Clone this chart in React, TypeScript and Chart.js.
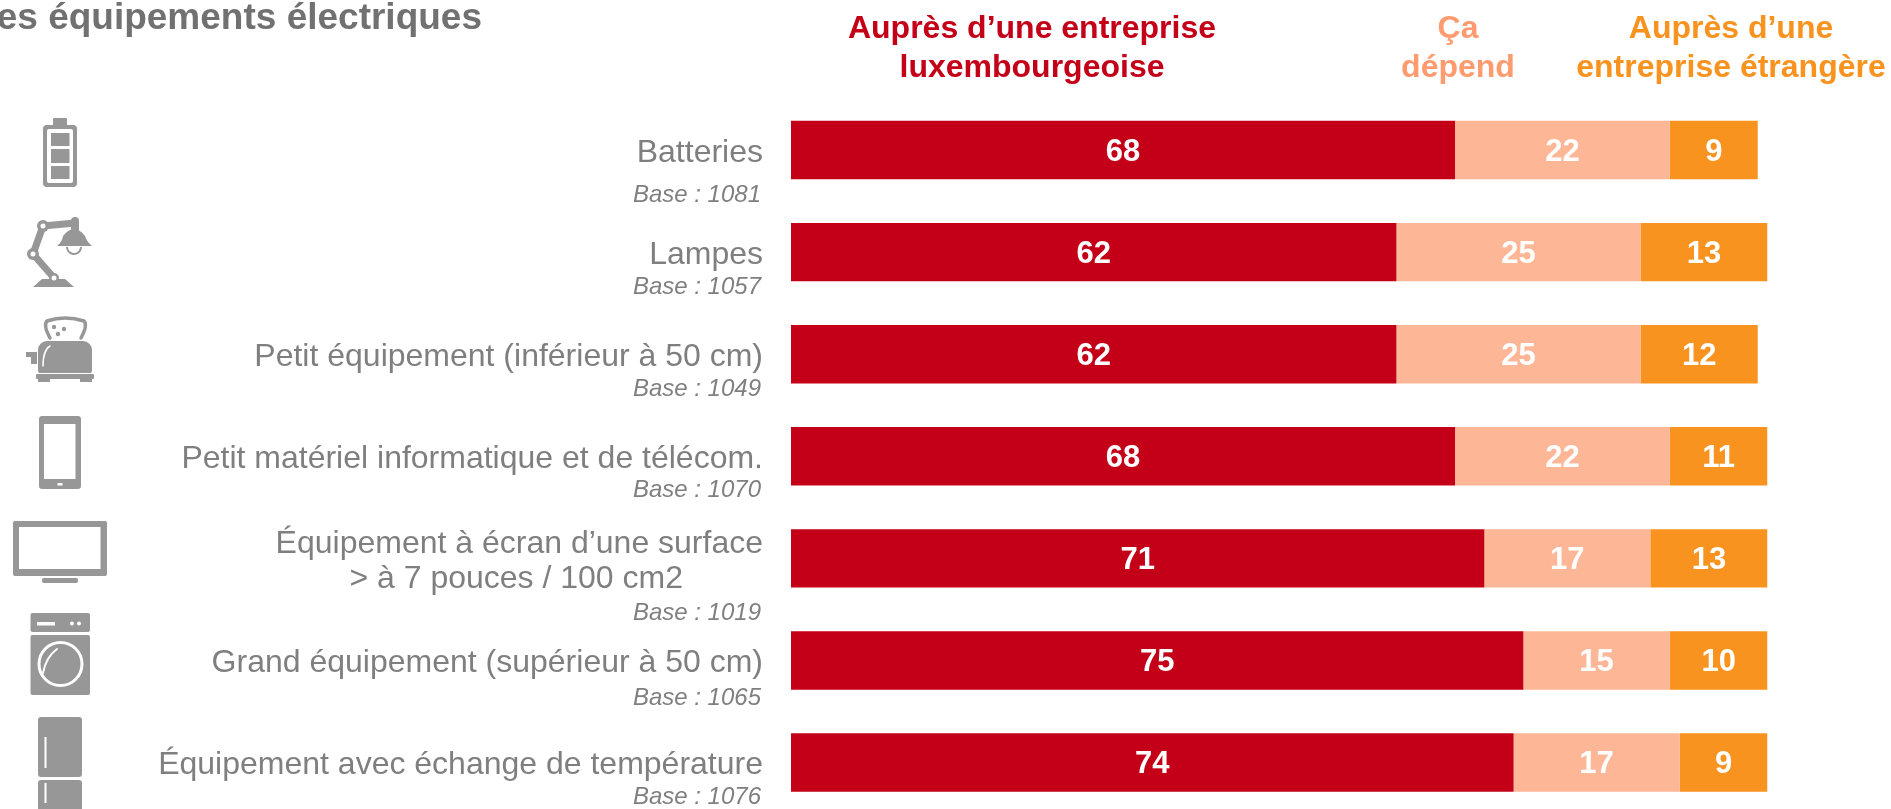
import React, { useEffect, useRef } from "react";
import { Chart, registerables } from "chart.js";

Chart.register(...registerables);

const categories: string[][] = [
  ["Batteries"],
  ["Lampes"],
  ["Petit équipement (inférieur à 50 cm)"],
  ["Petit matériel informatique et de télécom."],
  ["Équipement à écran d’une surface", "> à 7 pouces / 100 cm2"],
  ["Grand équipement (supérieur à 50 cm)"],
  ["Équipement avec échange de température"],
];
const bases = [1081, 1057, 1049, 1070, 1019, 1065, 1076];
const luxembourgeoise = [68, 62, 62, 68, 71, 75, 74];
const depend = [22, 25, 25, 22, 17, 15, 17];
const etrangere = [9, 13, 12, 10, 12, 10, 9];
const luxembourgeoiseLabels = [68, 62, 62, 68, 71, 75, 74];
const dependLabels = [22, 25, 25, 22, 17, 15, 17];
const etrangereLabels = [9, 13, 12, 11, 13, 10, 9];
const seriesLabels = [luxembourgeoiseLabels, dependLabels, etrangereLabels];

const RED = "#C40018";
const PEACH = "#FDB797";
const ORANGE = "#F7931E";
const GREY = "#7F7F7F";
const ICON = "#979797";
const FAMILY = "'Liberation Sans', Arial, sans-serif";
const baseOffsets = [45, 35, 35, 34, 55, 38, 35];
const W = 1891;
const H = 851;

const rr = (c: CanvasRenderingContext2D, x: number, y: number, w: number, h: number, r: number | number[], col: string) => {
  c.fillStyle = col;
  c.beginPath();
  c.roundRect(x, y, w, h, r);
  c.fill();
};
const dot = (c: CanvasRenderingContext2D, x: number, y: number, r: number, col: string) => {
  c.fillStyle = col;
  c.beginPath();
  c.arc(x, y, r, 0, Math.PI * 2);
  c.fill();
};

function drawIcons(c: CanvasRenderingContext2D) {
  c.save();
  // battery
  rr(c, 53, 118, 14, 9, 1, ICON);
  rr(c, 43, 125, 34, 62, 4, ICON);
  rr(c, 47, 129, 26, 54, 2, "#fff");
  c.fillStyle = ICON;
  c.fillRect(51, 133, 18.5, 13);
  c.fillRect(51, 149, 18.5, 14);
  c.fillRect(51, 166, 18.5, 13);
  // lamp
  c.strokeStyle = ICON;
  c.lineWidth = 7;
  c.lineJoin = "round";
  c.lineCap = "round";
  c.beginPath();
  c.moveTo(75, 223);
  c.lineTo(43, 226);
  c.lineTo(33, 254);
  c.lineTo(54, 278);
  c.stroke();
  c.fillStyle = ICON;
  c.beginPath();
  c.moveTo(33, 287);
  c.lineTo(74, 287);
  c.lineTo(65, 279);
  c.lineTo(42, 279);
  c.closePath();
  c.fill();
  c.beginPath();
  c.moveTo(57, 246);
  c.quadraticCurveTo(62, 242, 63, 236);
  c.quadraticCurveTo(74, 222, 85, 236);
  c.quadraticCurveTo(87, 242, 92, 246);
  c.closePath();
  c.fill();
  c.lineWidth = 2;
  c.beginPath();
  c.arc(74, 247, 7, 0.1, Math.PI - 0.1);
  c.stroke();
  rr(c, 71, 217, 8, 16, 4, ICON);
  dot(c, 43, 226, 6, ICON);
  dot(c, 43, 226, 2.5, "#fff");
  dot(c, 33, 254, 6, ICON);
  dot(c, 33, 254, 2.5, "#fff");
  dot(c, 54, 278, 5, ICON);
  dot(c, 54, 278, 2.5, "#fff");
  // toaster
  c.lineWidth = 3.5;
  c.beginPath();
  c.moveTo(50, 338);
  c.quadraticCurveTo(43, 325, 47, 321);
  c.quadraticCurveTo(65, 315, 84, 321);
  c.quadraticCurveTo(88, 325, 81, 338);
  c.stroke();
  dot(c, 54, 327, 2.2, ICON);
  dot(c, 64, 329, 2.2, ICON);
  dot(c, 58, 334, 2.2, ICON);
  rr(c, 38, 341, 54, 32, [9, 9, 2, 2], ICON);
  c.strokeStyle = "#fff";
  c.lineWidth = 1.5;
  c.beginPath();
  c.moveTo(43, 366);
  c.quadraticCurveTo(43, 350, 50, 346);
  c.stroke();
  c.fillStyle = ICON;
  c.fillRect(26, 352, 11, 5);
  c.fillRect(31, 352, 6, 12);
  rr(c, 36, 374, 58, 5, 1, ICON);
  c.fillRect(38, 379, 12, 3);
  c.fillRect(80, 379, 12, 3);
  // phone
  rr(c, 39, 416, 42, 73, 3, ICON);
  c.fillStyle = "#fff";
  c.fillRect(44, 424, 31.5, 55);
  c.fillRect(57.5, 483, 5, 2.5);
  // tv
  rr(c, 13, 521, 94, 55, 2, ICON);
  c.fillStyle = "#fff";
  c.fillRect(19, 527, 81.5, 42);
  rr(c, 42, 578, 36, 5, 2, ICON);
  // washing machine
  rr(c, 30.5, 613, 59.5, 19, 2, ICON);
  rr(c, 30.5, 635, 59.5, 60, 2, ICON);
  c.fillStyle = "#fff";
  c.fillRect(37, 622, 18, 3.5);
  dot(c, 72, 623.5, 2, "#fff");
  dot(c, 79, 623.5, 2, "#fff");
  c.strokeStyle = "#fff";
  c.lineWidth = 3;
  c.beginPath();
  c.arc(60.5, 664, 21.5, 0, Math.PI * 2);
  c.stroke();
  c.lineWidth = 2;
  c.beginPath();
  c.moveTo(43, 673);
  c.quadraticCurveTo(46, 657, 57, 649);
  c.stroke();
  // fridge
  rr(c, 38, 717, 44, 60, 3, ICON);
  rr(c, 38, 780, 44, 40, 3, ICON);
  c.fillStyle = "#fff";
  c.fillRect(44.5, 737, 2, 31);
  c.fillRect(44.5, 783, 2, 20);
  c.restore();
}

const annotations = {
  id: "annotations",
  afterDraw(chart: any) {
    const c: CanvasRenderingContext2D = chart.ctx;
    const yScale = chart.scales.y;
    c.save();
    drawIcons(c);
    c.textBaseline = "middle";

    // values inside the segments
    c.font = `bold 31px ${FAMILY}`;
    c.fillStyle = "#fff";
    c.textAlign = "center";
    seriesLabels.forEach((labels, d) => {
      chart.getDatasetMeta(d).data.forEach((bar: any, i: number) => {
        c.fillText(String(labels[i]), (bar.x + bar.base) / 2, bar.y + 2);
      });
    });

    // bases under the category labels
    c.font = `italic 24px ${FAMILY}`;
    c.fillStyle = GREY;
    c.textAlign = "right";
    bases.forEach((b, i) => {
      c.fillText(`Base : ${b}`, 761, yScale.getPixelForValue(i) + baseOffsets[i]);
    });

    // column headers
    c.font = `bold 32px ${FAMILY}`;
    c.textAlign = "center";
    c.fillStyle = RED;
    c.fillText("Auprès d’une entreprise", 1032, 29);
    c.fillText("luxembourgeoise", 1032, 68);
    c.fillStyle = "#FF9B6E";
    c.fillText("Ça", 1458, 29);
    c.fillText("dépend", 1458, 68);
    c.fillStyle = ORANGE;
    c.fillText("Auprès d’une", 1731, 29);
    c.fillText("entreprise étrangère", 1731, 68);

    // title, cut by the left edge of the page
    c.font = `bold 37px ${FAMILY}`;
    c.fillStyle = "#717171";
    c.textAlign = "right";
    c.fillText("es équipements électriques", 482, 19);
    c.restore();
  },
};

export default function App() {
  const ref = useRef<HTMLCanvasElement>(null);
  useEffect(() => {
    const chart = new Chart(ref.current!, {
      type: "bar",
      data: {
        labels: categories,
        datasets: [
          { label: "Auprès d’une entreprise luxembourgeoise", data: luxembourgeoise, backgroundColor: RED },
          { label: "Ça dépend", data: depend, backgroundColor: PEACH },
          { label: "Auprès d’une entreprise étrangère", data: etrangere, backgroundColor: ORANGE },
        ],
      },
      options: {
        indexAxis: "y",
        animation: false,
        responsive: false,
        barPercentage: 0.572,
        categoryPercentage: 1,
        layout: { padding: { top: 99, right: 123.5, bottom: 15.5, left: 0 } },
        plugins: { legend: { display: false }, tooltip: { enabled: false }, title: { display: false } },
        scales: {
          x: { type: "linear", stacked: true, min: 0, max: 100, display: false },
          y: {
            stacked: true,
            grid: { display: false },
            border: { display: false },
            afterFit: (s: any) => {
              s.width = 791;
            },
            ticks: {
              padding: 20,
              labelOffset: 3,
              color: GREY,
              autoSkip: false,
              font: { family: FAMILY, size: 32, lineHeight: 1.09 },
              callback: (_v: any, i: number) =>
                categories[i].map((line, k) => (k === 0 ? line : line + " ".repeat(9))),
            },
          },
        } as any,
      } as any,
      plugins: [annotations],
    });
    return () => chart.destroy();
  }, []);
  return (
    <div style={{ position: "fixed", left: 0, top: 0, width: 1891, height: 809, overflow: "hidden" }}>
      <canvas ref={ref} width={W} height={H} style={{ display: "block" }} />
    </div>
  );
}
